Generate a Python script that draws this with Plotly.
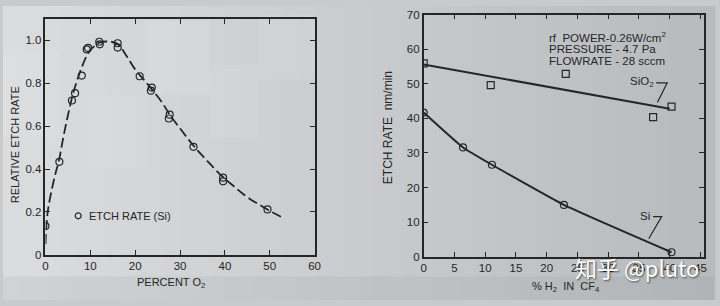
import plotly.graph_objects as go

# ---------------- data ----------------
# Left: relative etch rate of Si vs percent O2
o2_pts = [0, 3.1, 5.9, 6.6, 8.1, 9.2, 9.5, 12.0, 12.1, 16.1, 16.1, 21.0, 23.5, 23.7, 27.5, 27.7, 33.0, 39.6, 39.6, 49.5]
rel_pts = [0.134, 0.434, 0.72, 0.754, 0.836, 0.958, 0.965, 0.994, 0.982, 0.987, 0.967, 0.833, 0.766, 0.78, 0.636, 0.654, 0.504, 0.36, 0.343, 0.212]
o2_fit = [0, 0.5, 2, 3, 4, 5, 6, 7, 8, 9, 10, 11, 12, 14, 16, 18, 20, 22, 24, 26, 28, 30, 32, 34, 36, 38, 40, 42, 44, 46, 48, 50, 52.5]
rel_fit = [0.05, 0.2, 0.36, 0.44, 0.55, 0.65, 0.74, 0.81, 0.87, 0.92, 0.955, 0.975, 0.99, 0.995, 0.985, 0.93, 0.865, 0.815, 0.765, 0.71, 0.645, 0.59, 0.535, 0.485, 0.44, 0.395, 0.355, 0.32, 0.285, 0.255, 0.23, 0.205, 0.178]

# Right: etch rate (nm/min) vs % H2 in CF4
h2_sio2 = [0, 10.9, 23.1, 37.3, 40.3]
rate_sio2 = [55.9, 49.6, 52.9, 40.4, 43.4]
h2_sio2_fit = [0, 40.0]
rate_sio2_fit = [55.6, 42.8]
h2_si = [0, 6.4, 11.1, 22.8, 40.3]
rate_si = [41.7, 31.6, 26.6, 15.0, 1.3]

left_yticks = [0, 0.2, 0.4, 0.6, 0.8, 1.0]
left_yticktext = ["0", "0.2", "0.4", "0.6", "0.8", "1.0"]
left_xticks = [0, 10, 20, 30, 40, 50, 60]
right_xticks = [0, 5, 10, 15, 20, 25, 30, 35, 40, 45]
right_yticks = [0, 10, 20, 30, 40, 50, 60, 70]

conditions = ["rf  POWER-0.26W/cm<sup>2</sup>", "PRESSURE - 4.7 Pa", "FLOWRATE - 28 sccm"]

INK = "#262626"
FONT = "Liberation Sans"
W, H = 720, 306

fig = go.Figure()

# left chart
fig.add_trace(go.Scatter(x=o2_fit, y=rel_fit, mode="lines", line=dict(color=INK, width=1.8, dash="10px,4px", shape="spline"),
                         xaxis="x", yaxis="y", showlegend=False, hoverinfo="skip"))
fig.add_trace(go.Scatter(x=o2_pts, y=rel_pts, mode="markers",
                         marker=dict(symbol="circle-open", size=7, color=INK, line=dict(width=1.2)),
                         xaxis="x", yaxis="y", showlegend=False))
# legend key
fig.add_trace(go.Scatter(x=[7.3], y=[0.182], mode="markers",
                         marker=dict(symbol="circle-open", size=6, color=INK, line=dict(width=1.2)),
                         xaxis="x", yaxis="y", showlegend=False, hoverinfo="skip"))

# right chart
fig.add_trace(go.Scatter(x=h2_sio2_fit, y=rate_sio2_fit, mode="lines", line=dict(color=INK, width=2),
                         xaxis="x2", yaxis="y2", showlegend=False))
fig.add_trace(go.Scatter(x=h2_sio2, y=rate_sio2, mode="markers",
                         marker=dict(symbol="square-open", size=7, color=INK, line=dict(width=1.2)),
                         xaxis="x2", yaxis="y2", showlegend=False))
fig.add_trace(go.Scatter(x=h2_si, y=rate_si, mode="lines+markers", line=dict(color=INK, width=2, shape="spline", smoothing=0.4),
                         marker=dict(symbol="circle-open", size=7, color=INK, line=dict(width=1.2)),
                         xaxis="x2", yaxis="y2", showlegend=False))

# background gradient strips
shapes = []
n = 48
c0 = (218, 220, 222)
c1 = (184, 187, 190)
for i in range(n):
    t = i / (n - 1)
    c = tuple(int(round(c0[k] + (c1[k] - c0[k]) * t)) for k in range(3))
    shapes.append(dict(type="rect", xref="paper", yref="paper", x0=i / n, x1=(i + 1) / n + 0.002, y0=0, y1=1,
                       fillcolor="rgb(%d,%d,%d)" % c, line=dict(width=0), layer="below"))
# faint lighter tiles on left
for (x0, x1, y0, y1, op) in [(0.20, 0.29, 0.70, 0.95, 0.10), (0.29, 0.36, 0.55, 0.80, 0.08), (0.12, 0.20, 0.45, 0.70, 0.06),
                              (0.36, 0.44, 0.75, 0.97, 0.08), (0.0, 0.08, 0.55, 0.85, 0.06)]:
    shapes.append(dict(type="rect", xref="paper", yref="paper", x0=x0, x1=x1, y0=y0, y1=y1,
                       fillcolor="white", opacity=op, line=dict(width=0), layer="below"))
# bottom shade
shapes.append(dict(type="rect", xref="paper", yref="paper", x0=0, x1=1, y0=0, y1=0.08,
                   fillcolor="rgba(90,95,100,0.07)", line=dict(width=0), layer="below"))

# pointers
shapes.append(dict(type="path", xref="x2", yref="y2", path="M 37.8,50.3 L 39.6,50.3 L 38.0,44.6",
                   line=dict(color=INK, width=1.2)))
shapes.append(dict(type="path", xref="x2", yref="y2", path="M 37.3,11.6 L 38.7,11.6 L 36.6,5.2",
                   line=dict(color=INK, width=1.2)))

annotations = [
    dict(text="ETCH RATE (Si)", x=9.2, y=0.182, xref="x", yref="y", xanchor="left", yanchor="middle", showarrow=False,
         font=dict(family=FONT, size=11, color=INK)),
    dict(text="RELATIVE ETCH RATE", x=13 / W, y=1 - 144 / H, xref="paper", yref="paper", xanchor="center", yanchor="middle",
         textangle=-90, showarrow=False, font=dict(family=FONT, size=11, color=INK)),
    dict(text="PERCENT O<sub>2</sub>", x=170 / W, y=1 - 288 / H, xref="paper", yref="paper", xanchor="center", yanchor="middle",
         showarrow=False, font=dict(family=FONT, size=11, color=INK)),
    dict(text="ETCH RATE  nm/min", x=390 / W, y=1 - 127 / H, xref="paper", yref="paper", xanchor="center", yanchor="middle",
         textangle=-90, showarrow=False, font=dict(family=FONT, size=12, color=INK)),
    dict(text="% H<sub>2</sub>  IN  CF<sub>4</sub>", x=570 / W, y=1 - 292 / H, xref="paper", yref="paper", xanchor="center",
         yanchor="middle", showarrow=False, font=dict(family=FONT, size=11, color=INK)),
    dict(text="SiO<sub>2</sub>", x=37.7, y=50.6, xref="x2", yref="y2", xanchor="right", yanchor="middle", showarrow=False,
         font=dict(family=FONT, size=11.5, color=INK)),
    dict(text="Si", x=37.2, y=11.9, xref="x2", yref="y2", xanchor="right", yanchor="middle", showarrow=False,
         font=dict(family=FONT, size=11.5, color=INK)),
    dict(text="知乎 @pluto", x=577 / W, y=1 - 272 / H, xref="paper", yref="paper", xanchor="left", yanchor="middle",
         showarrow=False, font=dict(family="Noto Sans CJK SC", size=22, color="white",
                                    shadow="1px 1px 2px rgba(0,0,0,0.6)")),
]
for line_text, yv in zip(conditions, [63.6, 60.1, 56.6]):
    annotations.append(dict(text=line_text, x=20.0, y=yv, xref="x2", yref="y2", xanchor="left", yanchor="middle",
                            showarrow=False, font=dict(family=FONT, size=11.5, color=INK)))

axis_common = dict(showgrid=False, zeroline=False, showline=True, linecolor=INK, linewidth=1.5, mirror="ticks",
                   ticks="inside", ticklen=5, tickwidth=1.3, tickcolor=INK,
                   tickfont=dict(family=FONT, size=11.5, color=INK))

fig.update_layout(
    width=W, height=H, margin=dict(l=0, r=0, t=0, b=0),
    paper_bgcolor="#c8cacc", plot_bgcolor="rgba(0,0,0,0)",
    xaxis=dict(domain=[43 / W, 316 / W], range=[0, 60.1], tickvals=left_xticks, anchor="y", **axis_common),
    yaxis=dict(domain=[1 - 259 / H, 1 - 14 / H], range=[0, 1.098], tickvals=left_yticks, ticktext=left_yticktext,
               anchor="x", **axis_common),
    xaxis2=dict(domain=[426 / W, 710 / W], range=[0, 45.6], tickvals=right_xticks, anchor="y2", **axis_common),
    yaxis2=dict(domain=[1 - 261 / H, 1 - 9 / H], range=[0, 70], tickvals=right_yticks, anchor="x2", **axis_common),
    shapes=shapes, annotations=annotations,
)

fig.write_html("out.html")
